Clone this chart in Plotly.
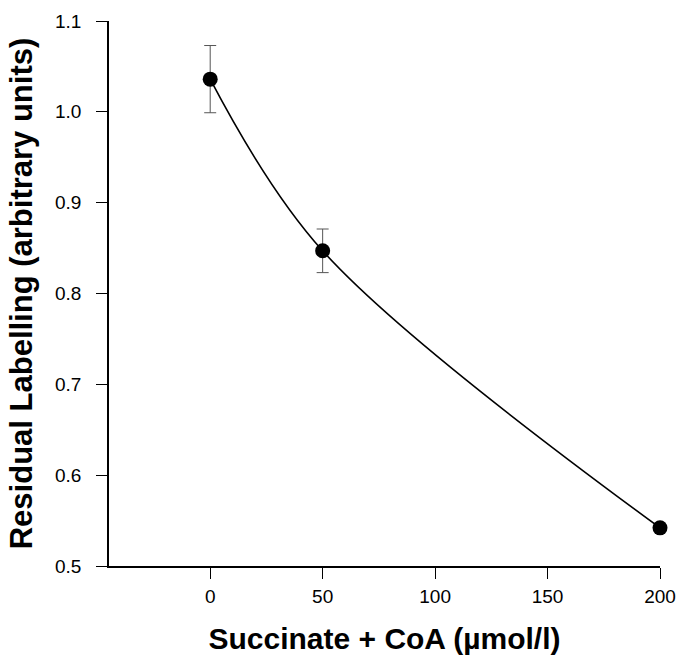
import plotly.graph_objects as go

# Data
concentration = [0, 50, 200]
residual = [1.036, 0.847, 0.542]
error = [0.037, 0.024, 0.0]

x_ticks = [0, 50, 100, 150, 200]
y_ticks = [0.5, 0.6, 0.7, 0.8, 0.9, 1.0, 1.1]

FONT = "Liberation Sans, Arial, Helvetica, sans-serif"

fig = go.Figure()
fig.add_trace(go.Scatter(
    x=concentration, y=residual,
    mode="lines",
    line=dict(color="black", width=1.6, shape="spline", smoothing=1.0),
    hoverinfo="skip", showlegend=False, cliponaxis=False,
))
fig.add_trace(go.Scatter(
    x=concentration, y=residual,
    mode="markers",
    marker=dict(color="black", size=15),
    error_y=dict(type="data", array=error, visible=True, color="#555555",
                 thickness=1, width=6),
    showlegend=False, cliponaxis=False,
))

fig.update_layout(
    template="none",
    width=679, height=659,
    margin=dict(l=109, r=19, t=21, b=93),
    plot_bgcolor="white", paper_bgcolor="white",
    font=dict(family=FONT, color="black"),
    xaxis=dict(
        range=[-45, 200], automargin=False,
        tickvals=x_ticks, ticktext=[str(v) for v in x_ticks],
        ticks="outside", ticklen=11, tickwidth=1, tickcolor="black",
        showline=True, linecolor="black", linewidth=1.5,
        showgrid=False, zeroline=False,
        tickfont=dict(size=19), ticklabelstandoff=1,
        title=dict(text="<b>Succinate + CoA (µmol/l)</b>",
                   font=dict(size=30), standoff=22),
    ),
    yaxis=dict(
        range=[0.5, 1.1], automargin=False,
        tickvals=y_ticks, ticktext=[f"{v:.1f}" for v in y_ticks],
        ticks="outside", ticklen=11, tickwidth=1, tickcolor="black",
        showline=True, linecolor="black", linewidth=1.5,
        showgrid=False, zeroline=False,
        tickfont=dict(size=19), ticklabelstandoff=11,
        title=dict(text="<b>Residual Labelling (arbitrary units)</b>",
                   font=dict(size=31), standoff=13),
    ),
)

fig.write_html("out.html",
               config={"displayModeBar": False},
               post_script="document.body.style.margin='0';document.body.style.overflow='hidden';")
